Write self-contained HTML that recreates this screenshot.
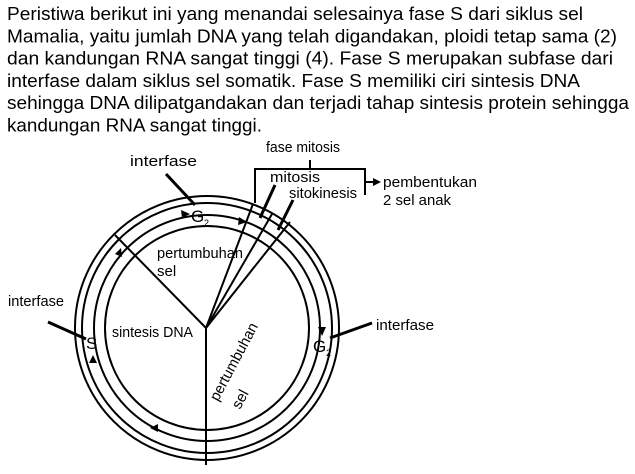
<!DOCTYPE html>
<html><head><meta charset="utf-8"><style>
html,body{margin:0;padding:0;background:#fff;}
svg{display:block;}
text{font-family:"Liberation Sans",Arial,sans-serif;fill:#000;}
</style></head><body>
<svg width="635" height="474" viewBox="0 0 635 474" xmlns="http://www.w3.org/2000/svg">
<g font-size="18.5">
<text x="7" y="20" textLength="576" lengthAdjust="spacingAndGlyphs">Peristiwa berikut ini yang menandai selesainya fase S dari siklus sel</text>
<text x="7" y="42.3" textLength="610" lengthAdjust="spacingAndGlyphs">Mamalia, yaitu jumlah DNA yang telah digandakan, ploidi tetap sama (2)</text>
<text x="7" y="64.6" textLength="606" lengthAdjust="spacingAndGlyphs">dan kandungan RNA sangat tinggi (4). Fase S merupakan subfase dari</text>
<text x="7" y="86.9" textLength="573" lengthAdjust="spacingAndGlyphs">interfase dalam siklus sel somatik. Fase S memiliki ciri sintesis DNA</text>
<text x="7" y="109.2" textLength="622" lengthAdjust="spacingAndGlyphs">sehingga DNA dilipatgandakan dan terjadi tahap sintesis protein sehingga</text>
<text x="7" y="131.5" textLength="255" lengthAdjust="spacingAndGlyphs">kandungan RNA sangat tinggi.</text>
</g>
<g fill="none" stroke="#000" stroke-width="2">
<circle cx="207" cy="328" r="132"/>
<circle cx="207" cy="328" r="125"/>
<circle cx="207" cy="328" r="113"/>
<circle cx="207" cy="328" r="102"/>
<line x1="206" y1="328" x2="115" y2="235"/>
<line x1="206" y1="328" x2="206" y2="465"/>
<line x1="206" y1="328" x2="253" y2="204"/>
<line x1="206" y1="328" x2="272" y2="214"/>
<line x1="206" y1="328" x2="290" y2="222"/>
<polyline points="255,203 255,169 365,169 365,195"/>
<line x1="310" y1="169" x2="310" y2="160"/>
<line x1="365" y1="182" x2="373" y2="182"/>
<line x1="260" y1="218" x2="275" y2="185" stroke-width="3"/>
<line x1="278" y1="230" x2="293" y2="200" stroke-width="3"/>
<line x1="166" y1="174" x2="195" y2="205" stroke-width="3"/>
<line x1="48" y1="322" x2="86" y2="339" stroke-width="3"/>
<line x1="372" y1="323" x2="330" y2="338" stroke-width="3"/>
</g>
<g fill="#000">
<polygon points="381,182 373,178 373,186"/>
<polygon points="190,214 181,210 182,218"/>
<polygon points="247,222 239,217 238,225"/>
<polygon points="322,336 318,327 326,327"/>
<polygon points="150,428 158,424 158,432"/>
<polygon points="93,355 89,363 97,363"/>
<polygon points="121,248 115,254 122,257"/>
</g>
<g font-size="15">
<text x="266" y="152" textLength="74" lengthAdjust="spacingAndGlyphs">fase mitosis</text>
<text x="130" y="166" textLength="67" lengthAdjust="spacingAndGlyphs">interfase</text>
<text x="270" y="182" textLength="50" lengthAdjust="spacingAndGlyphs">mitosis</text>
<text x="289" y="198" textLength="68" lengthAdjust="spacingAndGlyphs">sitokinesis</text>
<text x="383" y="187" textLength="94" lengthAdjust="spacingAndGlyphs">pembentukan</text>
<text x="383" y="205" textLength="68" lengthAdjust="spacingAndGlyphs">2 sel anak</text>
<text x="8" y="306" textLength="56" lengthAdjust="spacingAndGlyphs">interfase</text>
<text x="376" y="330" textLength="58" lengthAdjust="spacingAndGlyphs">interfase</text>
<text x="157" y="258" textLength="86" lengthAdjust="spacingAndGlyphs">pertumbuhan</text>
<text x="157" y="276">sel</text>
<text x="112" y="337" textLength="81" lengthAdjust="spacingAndGlyphs">sintesis DNA</text>
<text x="218" y="402" transform="rotate(-62 218 402)" textLength="86" lengthAdjust="spacingAndGlyphs">pertumbuhan</text>
<text x="240" y="410" transform="rotate(-62 240 410)">sel</text>
</g>
<g font-size="17">
<text x="191" y="222">G</text><text x="204" y="226" font-size="9">2</text>
<text x="86" y="349">S</text>
<text x="313" y="352">G</text><text x="326" y="356" font-size="9">2</text>
</g>
</svg>
</body></html>
